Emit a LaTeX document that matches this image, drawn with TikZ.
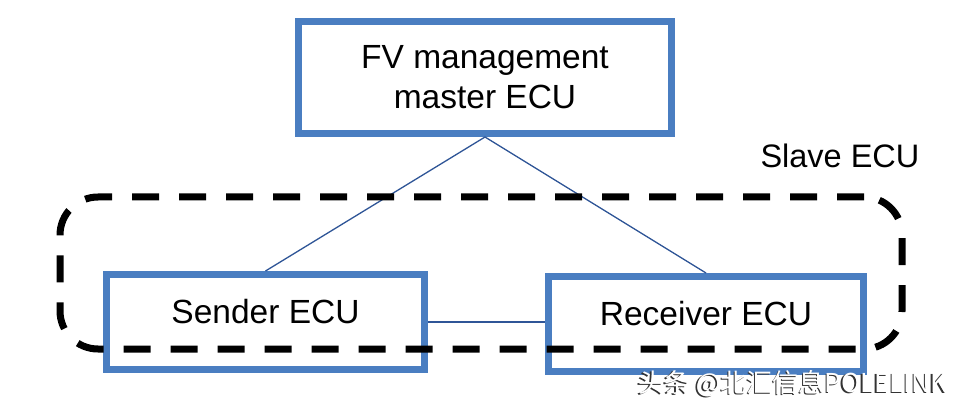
\documentclass[tikz,border=0pt]{standalone}
\usepackage{fontspec}
\setmainfont{Liberation Sans}
\newfontfamily\cjkfont{Noto Sans CJK SC}
\usepackage{tikz}
\usetikzlibrary{positioning}

\definecolor{boxblue}{RGB}{74,126,193}
\definecolor{lineblue}{RGB}{47,85,151}

\tikzset{
	ecubox/.style={draw=boxblue, line width=7pt, fill=white, align=center,
		font=\fontsize{33.5}{40}\selectfont, inner sep=0pt},
	raisedtext/.style={text height=23pt, text depth=20pt},
	link/.style={draw=lineblue, line width=1.3pt},
	slavegroup/.style={draw=black, line width=7pt, rounded corners=38pt,
		dash pattern=on 27pt off 20pt, inner sep=0pt}
}

\begin{document}
\begin{tikzpicture}[x=1pt,y=-1pt]

	\useasboundingbox[fill=white] (0,0) rectangle (956,406);

	\node[ecubox, minimum width=373pt, minimum height=112pt] (master) at (485,77.5) {FV management\\master ECU};
	\node[ecubox, raisedtext, minimum width=318pt, minimum height=95pt] (sender) at (265.5,322) {Sender ECU};
	\node[ecubox, raisedtext, minimum width=315pt, minimum height=95pt] (receiver) at (706,324) {Receiver ECU};

	\draw[link] (master.south) -- (sender.north);
	\draw[link] (master.south) -- (receiver.north);
	\draw[link] (sender.east) -- (sender.east -| receiver.west);

	% slave group
	\node[slavegroup, minimum width=842pt, minimum height=152pt] (slave) at (481,273) {};
	\node[font=\fontsize{32.5}{40}\selectfont, anchor=base] (slavelabel) at (840,168) {Slave ECU};

	% watermark
	\node[font=\cjkfont\fontsize{26}{30}\selectfont, text=black!80, anchor=base west, inner sep=0pt] (wmshadow) at (636.5,393.5) {头条 @北汇信息POLELINK};
	\node[font=\cjkfont\fontsize{26}{30}\selectfont, text=white, anchor=base west, inner sep=0pt] (wm) at (638,392) {头条 @北汇信息POLELINK};

\end{tikzpicture}
\end{document}
